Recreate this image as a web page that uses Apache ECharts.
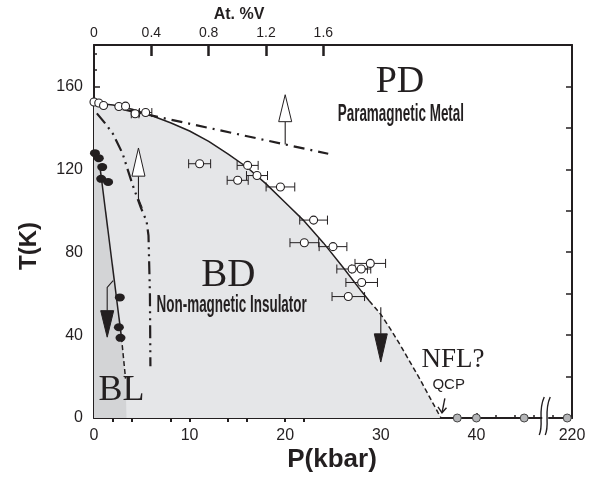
<!DOCTYPE html>
<html>
<head>
<meta charset="utf-8">
<script src="https://cdn.jsdelivr.net/npm/echarts@6/dist/echarts.min.js"></script>
<style>
html, body { margin: 0; padding: 0; background: #fff; }
#chart { width: 606px; height: 477px; }
</style>
</head>
<body>
<div id="chart"></div>
<script>
// P (kbar), T (K)
var pdbdSolid = [[0,152],[2,151],[4,149],[6,146],[8,142.5],[10,138.5],[12,133.5],[14,127.5],[16,121],[18,113],[20,104],[22,95],[24,84.5],[26,73],[28,61],[28.8,56.5]];
var pdbdDash = [[28.8,56.5],[30,50],[31,43],[32,35.5],[33,27.5],[34,19.5],[35,11],[36,2.5],[36.3,0]];
var pdExt = [[3,149],[24.5,127.5]];
var bdBl = [[0.3,147],[1.2,142],[2,137],[3,127.5],[4,113],[4.9,101.5],[5.5,95],[5.7,88],[5.85,60],[5.9,25]];
var blSolid = [[0.6,122],[2.87,39]];
var blDash = [[2.87,39],[3.3,19]];
var blRegion = [[0,128],[0.6,122],[2.87,39],[3.3,19],[3.4,0],[0,0]];
// open circles: P, T, horizontal error (kbar)
var openPts = [[0,152.5,0],[0.5,152,0],[1,150.8,0],[2.6,150.3,0],[3.3,150.5,0],[4.3,146.8,0.4],[5.4,147.4,0.65],
  [11.05,122.7,1.15],[16.07,121.9,1.1],[15.03,114.7,1.1],[17.05,117,1.1],[19.5,111.5,1.5],
  [22.97,95.5,1.45],[22,84.6,1.5],[25,82.7,1.45],[28.9,74.6,1.6],[27,71.9,1.6],[27.95,71.9,1.0],
  [28,65.4,1.65],[26.6,58.6,1.7]];
var filledPts = [[0.1,127.8],[0.5,125.4],[0.86,121.1],[0.75,115.4],[1.48,113.9],[2.7,58.2],[2.6,43.8],[2.77,38.7]];
var metalP = [38, 40, 45, 220];
// arrows: P, T at head base, T at tip
var arrowHeads = [[20,143,156],[4.65,116.7,130.3],[30,40.6,27],[1.38,51.8,39]];
var arrowOpen = [true, true, false, false];
var arrowStems = [
  [[20,132],[20,143]],
  [[5.05,101.4],[4.65,106],[4.65,116.7]],
  [[30,53.5],[30,40.6]],
  [[2.0,66.3],[1.38,63],[1.38,51.8]]
];
var qcpArrow = [[36.7,9.5],[36.4,2.5]];
var xTicks = [0, 10, 20, 30, 40, 220];
var topTicks = [0, 0.4, 0.8, 1.2, 1.6];

var ink = '#231f20';
// bottom axis is broken after 46 kbar; 220 kbar sits just before the right frame
var brk = function (p) { return p > 50 ? 49.5 : p; };

var chart = echarts.init(document.getElementById('chart'));

function polySeries(points, color) {
  return {
    type: 'custom', silent: true, z: 1,
    renderItem: function (params, api) {
      return {
        type: 'polygon',
        shape: { points: points.map(function (d) { return api.coord(d); }) },
        style: { fill: color }
      };
    },
    data: [[0, 0]]
  };
}

function lineSeries(data, width, type) {
  return {
    type: 'line', data: data, showSymbol: false, silent: true, z: 3,
    lineStyle: { color: ink, width: width, type: type || 'solid' }
  };
}

var minorT = [];
for (var t = 8; t < 180; t += 8) { if (t % 40) minorT.push(t); }

var option = {
  animation: false,
  grid: { left: 94, right: 34, top: 45, bottom: 59, outerBoundsMode: 'none' },
  xAxis: [{
    type: 'value', position: 'bottom', min: 0, max: 50, interval: 10,
    axisLine: { onZero: false, lineStyle: { color: ink, width: 2 } },
    axisTick: { inside: true, length: 5, lineStyle: { color: ink, width: 1.5 } },
    minorTick: { show: true, splitNumber: 5, length: 3, lineStyle: { color: ink, width: 1.5 } },
    splitLine: { show: false },
    axisLabel: {
      color: ink, fontSize: 16, fontFamily: 'Liberation Sans', margin: 10,
      formatter: function (v) { return v === 50 ? String(xTicks[5]) : String(v); }
    }
  }, {
    type: 'value', position: 'top', min: 0, max: 3.335,
    axisLine: { onZero: false, lineStyle: { color: ink, width: 2 } },
    axisTick: { inside: true, length: 11, customValues: topTicks.slice(1), lineStyle: { color: ink, width: 2.5 } },
    splitLine: { show: false },
    axisLabel: { customValues: topTicks, color: ink, fontSize: 14, fontFamily: 'Liberation Sans', margin: 5 }
  }, {
    type: 'value', position: 'top', min: 0, max: 3.335,
    axisLine: { show: false },
    axisTick: { inside: true, length: 4, customValues: [0.1333,0.2667,0.5333,0.6667,0.9333,1.0667,1.3333,1.4667], lineStyle: { color: ink, width: 2 } },
    splitLine: { show: false },
    axisLabel: { show: false }
  }],
  yAxis: [{
    type: 'value', position: 'left', min: 0, max: 180, interval: 40,
    axisLine: { onZero: false, lineStyle: { color: ink, width: 2 } },
    axisTick: { inside: true, length: 6, lineStyle: { color: ink, width: 1.5 } },
    splitLine: { show: false },
    axisLabel: {
      color: ink, fontSize: 16, fontFamily: 'Liberation Sans', margin: 11,
      formatter: function (v) { return v > 160 ? '' : String(v); }
    }
  }, {
    type: 'value', position: 'right', min: 0, max: 180, interval: 20,
    axisLine: { onZero: false, lineStyle: { color: ink, width: 2 } },
    axisTick: { inside: true, length: 6, lineStyle: { color: ink, width: 1.5 } },
    splitLine: { show: false },
    axisLabel: { show: false }
  }, {
    type: 'value', position: 'left', min: 0, max: 180,
    axisLine: { show: false },
    axisTick: { inside: true, length: 3, customValues: minorT, lineStyle: { color: ink, width: 1.5 } },
    splitLine: { show: false },
    axisLabel: { show: false }
  }],
  series: [
    polySeries(pdbdSolid.concat(pdbdDash, [[0, 0]]), '#e5e6e8'),
    polySeries(blRegion, '#d3d4d6'),
    lineSeries(pdbdSolid, 1.5),
    lineSeries(pdbdDash, 1.5, [5, 3]),
    lineSeries(pdExt, 2.2, [11, 6, 2, 6]),
    lineSeries(bdBl, 2.2, [13, 5, 2, 5, 2, 5]),
    lineSeries(blSolid, 1.5),
    lineSeries(blDash, 1.5, [5, 3]),
    {
      // horizontal error bars
      type: 'custom', z: 4, silent: true,
      renderItem: function (params, api) {
        var e = api.value(2);
        if (!e) return null;
        var l = api.coord([api.value(0) - e, api.value(1)]);
        var r = api.coord([api.value(0) + e, api.value(1)]);
        var st = { stroke: ink, lineWidth: 1 };
        return { type: 'group', children: [
          { type: 'line', shape: { x1: l[0], y1: l[1], x2: r[0], y2: r[1] }, style: st },
          { type: 'line', shape: { x1: l[0], y1: l[1] - 4.5, x2: l[0], y2: l[1] + 4.5 }, style: st },
          { type: 'line', shape: { x1: r[0], y1: r[1] - 4.5, x2: r[0], y2: r[1] + 4.5 }, style: st }
        ] };
      },
      data: openPts
    },
    {
      type: 'scatter', z: 5, silent: true, symbolSize: 8,
      itemStyle: { color: '#fff', borderColor: ink, borderWidth: 1.1, opacity: 1 },
      data: openPts.map(function (d) { return [d[0], d[1]]; })
    },
    {
      type: 'scatter', z: 5, silent: true, symbolSize: [10, 8],
      itemStyle: { color: ink, opacity: 1 },
      data: filledPts
    },
    {
      type: 'scatter', z: 6, silent: true, clip: false, symbolSize: 8,
      itemStyle: { color: '#b4b5b7', borderColor: '#444', borderWidth: 1, opacity: 1 },
      data: metalP.map(function (p) { return [brk(p), 0]; })
    },
    {
      // arrow stems
      type: 'custom', z: 6, silent: true,
      renderItem: function (params, api) {
        return {
          type: 'polyline',
          shape: { points: arrowStems[params.dataIndex].map(function (d) { return api.coord(d); }) },
          style: { stroke: ink, lineWidth: 1.1, fill: null }
        };
      },
      data: arrowStems.map(function (s) { return s[0]; })
    },
    {
      // arrow heads
      type: 'custom', z: 7, silent: true,
      renderItem: function (params, api) {
        var b = api.coord([api.value(0), api.value(1)]);
        var tip = api.coord([api.value(0), api.value(2)]);
        var w = 6.5;
        return {
          type: 'polygon',
          shape: { points: [[b[0] - w, b[1]], [b[0] + w, b[1]], tip] },
          style: { fill: arrowOpen[params.dataIndex] ? '#fff' : ink, stroke: ink, lineWidth: 1 }
        };
      },
      data: arrowHeads
    },
    {
      // QCP pointer
      type: 'custom', z: 7, silent: true,
      renderItem: function (params, api) {
        var a = api.coord(qcpArrow[0]);
        var b = api.coord(qcpArrow[1]);
        var st = { stroke: ink, lineWidth: 1.4, fill: null };
        return { type: 'group', children: [
          { type: 'line', shape: { x1: a[0], y1: a[1], x2: b[0], y2: b[1] }, style: st },
          { type: 'polyline', shape: { points: [[b[0] - 4, b[1] - 6], b, [b[0] + 4.5, b[1] - 5]] }, style: st }
        ] };
      },
      data: [qcpArrow[0]]
    }
  ]
};
chart.setOption(option);

function px(p, t) { return chart.convertToPixel({ xAxisIndex: 0, yAxisIndex: 0 }, [p, t]); }
function label(text, at, font, extra) {
  var el = {
    type: 'text', x: at[0], y: at[1], z: 100, silent: true,
    style: { text: text, font: font, fill: ink, align: 'center', verticalAlign: 'middle' }
  };
  for (var k in extra) el[k] = extra[k];
  return el;
}
var serif = "'Liberation Serif', 'DejaVu Serif', serif";
var narrow = "'Liberation Sans', Arial, sans-serif";
var br = px(47.2, 0);
var graphic = [
  label('PD', px(32, 162), '38px ' + serif),
  label('Paramagnetic Metal', px(32.1, 146.4), 'bold 23px ' + narrow, { scaleX: 0.585 }),
  label('BD', px(14.05, 68.6), '39px ' + serif),
  label('Non-magnetic Insulator', px(14.4, 54.2), 'bold 23px ' + narrow, { scaleX: 0.585 }),
  (function () {
    var e = label('BL', px(2.87, 13.4), '36px ' + serif);
    e.style.shadowColor = 'rgba(120,120,120,0.6)';
    e.style.shadowBlur = 5;
    return e;
  })(),
  label('NFL?', px(37.56, 27.8), '27px ' + serif),
  label('QCP', px(37.1, 15.8), '15px ' + narrow),
  label('At. %V', [239, 15], 'bold 16px ' + narrow),
  label('P(kbar)', [332, 460], 'bold 26px ' + narrow),
  label('T(K)', [29, 246], 'bold 24px ' + narrow, { rotation: Math.PI / 2 }),
  // axis break marks
  { type: 'rect', z: 90, shape: { x: br[0] - 3, y: br[1] - 3, width: 6, height: 6 }, style: { fill: '#fff' } },
  { type: 'bezierCurve', z: 91, shape: { x1: br[0] - 1, y1: br[1] - 21, cpx1: br[0] - 8, cpy1: br[1] - 6, cpx2: br[0] - 1, cpy2: br[1] + 6, x2: br[0] - 6, y2: br[1] + 17 }, style: { stroke: ink, lineWidth: 1.4, fill: null } },
  { type: 'bezierCurve', z: 91, shape: { x1: br[0] + 5, y1: br[1] - 21, cpx1: br[0] - 2, cpy1: br[1] - 6, cpx2: br[0] + 5, cpy2: br[1] + 6, x2: br[0], y2: br[1] + 17 }, style: { stroke: ink, lineWidth: 1.4, fill: null } }
];
chart.setOption({ graphic: graphic });
window.addEventListener('resize', function () { chart.resize(); });
</script>
</body>
</html>
